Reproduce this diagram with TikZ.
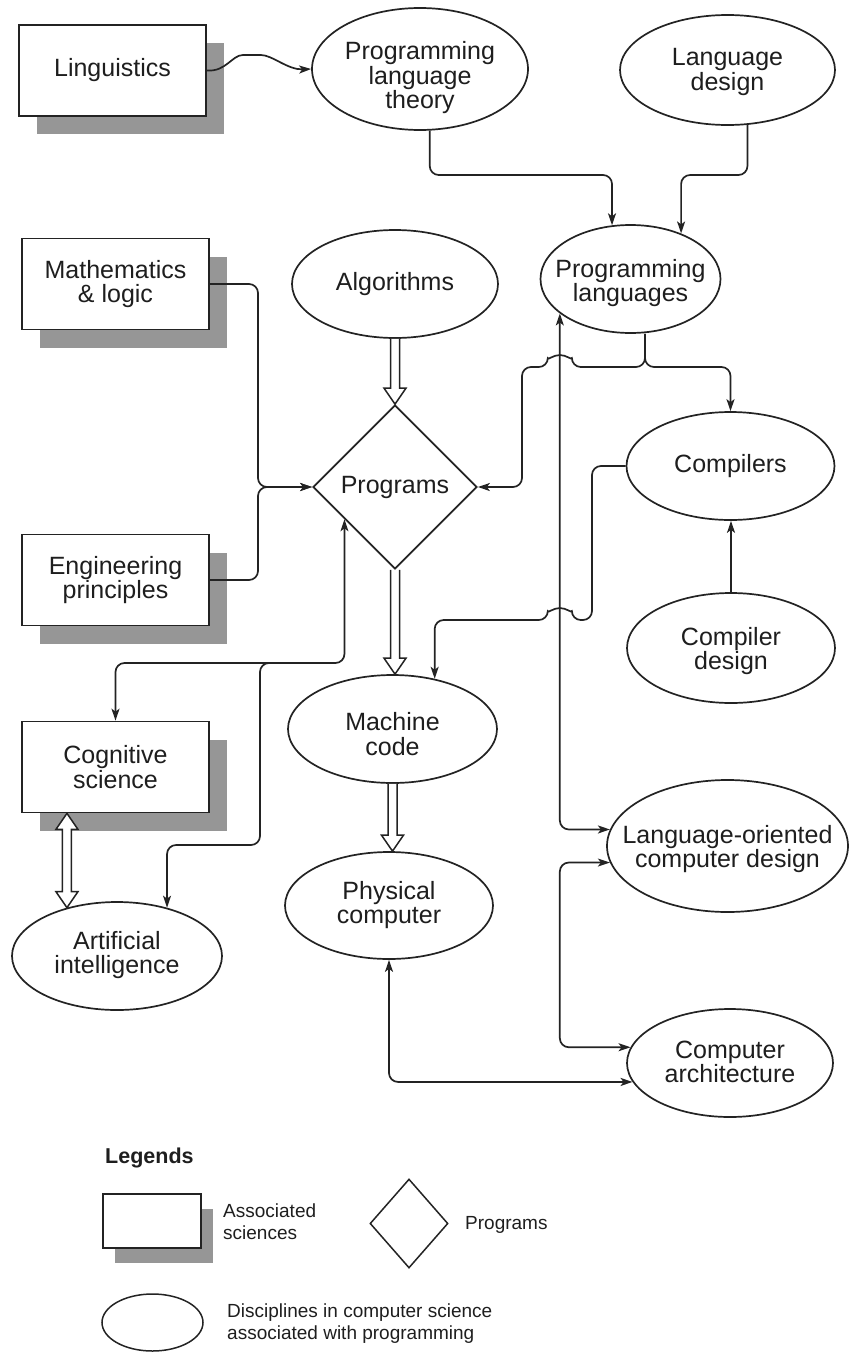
\documentclass[tikz,border=0pt]{standalone}
\usepackage{fontspec}
\setmainfont{Liberation Sans}
\usetikzlibrary{shapes.geometric,arrows.meta,calc,shadows}
\definecolor{linec}{RGB}{35,35,35}
\definecolor{textc}{RGB}{30,30,30}
\definecolor{shadowc}{RGB}{150,150,150}
\newcommand{\mainf}{\fontsize{25}{24.5}\selectfont}
\newcommand{\legf}{\fontsize{19}{22}\selectfont}
\newcommand{\hollowdown}[2]{%
  \draw[hollow] let \p1=(#1), \p2=(#2) in
    (\x1-4.5pt,\y1) -- (\x1-4.5pt,\y2+16pt) -- (\x1-11pt,\y2+16pt) -- (\x1,\y2)
    -- (\x1+11pt,\y2+16pt) -- (\x1+4.5pt,\y2+16pt) -- (\x1+4.5pt,\y1);}
\newcommand{\hollowboth}[2]{%
  \draw[hollow] let \p1=(#1), \p2=(#2) in
    (\x1-4.5pt,\y1-16pt) -- (\x1-11pt,\y1-16pt) -- (\x1,\y1) -- (\x1+11pt,\y1-16pt)
    -- (\x1+4.5pt,\y1-16pt) -- (\x1+4.5pt,\y2+16pt) -- (\x1+11pt,\y2+16pt) -- (\x1,\y2)
    -- (\x1-11pt,\y2+16pt) -- (\x1-4.5pt,\y2+16pt) -- cycle;}
\begin{document}
\begin{tikzpicture}[x=1pt,y=-1pt,
  >={Stealth[length=12pt,width=8pt,inset=3pt]},
  line/.style={draw=linec, line width=1.7pt, rounded corners=9pt},
  sci/.style={rectangle, draw=linec, line width=1.7pt, fill=white,
    minimum width=187pt, minimum height=91pt, inner sep=0pt, align=center,
    font=\mainf, text=textc,
    general shadow={fill=shadowc, draw=none, shadow xshift=18pt, shadow yshift=-18pt}},
  disc/.style={ellipse, draw=linec, line width=1.7pt, fill=white, inner sep=0pt},
  txt/.style={align=center, font=\mainf, text=textc, inner sep=0pt},
  legtxt/.style={align=left, font=\legf, text=textc, inner sep=0pt, anchor=west},
  hollow/.style={draw=linec, line width=1.5pt, fill=white, line join=miter},
]
\useasboundingbox (0,0) rectangle (852,1352);

% associated sciences
\node[sci] (ling) at (112.5,70.5) {Linguistics};
\node[sci] (math) at (115.5,284) {Mathematics\\\& logic};
\node[sci] (eng) at (115.5,580) {Engineering\\principles};
\node[sci] (cog) at (115.5,767) {Cognitive\\science};

% disciplines
\node[disc, minimum width=216pt, minimum height=122pt] (plt) at (420,69) {};
\node[txt] (plt-t) at (420,78) {Programming\\language\\theory};
\node[disc, minimum width=215pt, minimum height=110pt] (ld) at (727.5,70) {};
\node[txt] (ld-t) at (727.5,72) {Language\\design};
\node[disc, minimum width=180pt, minimum height=108pt] (pl) at (630.5,279) {};
\node[txt] (pl-t) at (630.5,283) {Programming\\languages};
\node[disc, minimum width=206pt, minimum height=108pt] (alg) at (395,284) {};
\node[txt] (alg-t) at (395,284) {Algorithms};
\node[diamond, aspect=1, draw=linec, line width=1.7pt, fill=white, inner sep=0pt,
  minimum width=164pt, minimum height=164pt, font=\mainf, text=textc] (prog) at (395,487) {Programs};
\node[disc, minimum width=208pt, minimum height=108pt] (comp) at (730.5,466) {};
\node[txt] (comp-t) at (730.5,466) {Compilers};
\node[disc, minimum width=208pt, minimum height=110pt] (cd) at (731,648) {};
\node[txt] (cd-t) at (731,651) {Compiler\\design};
\node[disc, minimum width=209pt, minimum height=108pt] (mc) at (392.5,729) {};
\node[txt] (mc-t) at (392.5,734) {Machine\\code};
\node[disc, minimum width=208pt, minimum height=107pt] (phys) at (389,905.5) {};
\node[txt] (phys-t) at (389,905) {Physical\\computer};
\node[disc, minimum width=241pt, minimum height=132pt] (locd) at (727.5,846) {};
\node[txt] (locd-t) at (727.5,849) {Language-oriented\\computer design};
\node[disc, minimum width=206pt, minimum height=108pt] (ca) at (730,1063) {};
\node[txt] (ca-t) at (730,1062) {Computer\\architecture};
\node[disc, minimum width=210pt, minimum height=108pt] (ai) at (117,956) {};
\node[txt] (ai-t) at (117,955) {Artificial\\intelligence};

% connectors
\draw[line,->] (ling.east) .. controls (226,72) and (232,55) .. (252,55)
  .. controls (272,55) and (288,70) .. (plt.west);

\coordinate (r1) at (0,175);
\draw[line,->] (plt.279) -- (plt.279 |- r1) -| (pl.109);
\draw[line,->] (ld.290) -- (ld.290 |- r1) -| (pl.42);

\coordinate (j) at (258,487);
\draw[line,->] (math.east) -| (j) -- (prog.west);
\draw[line,->] (eng.east) -| (j) -- (prog.west);

\coordinate (vx) at (pl.206);
\coordinate (plsplit) at (645,367);
\coordinate (lb) at (522,367);
\draw[line,->] (pl.south -| plsplit) -- (plsplit) -- ($(vx |- plsplit)+(12,0)$)
  arc[start angle=0,end angle=180,radius=12pt] -- (lb) |- (prog.east);
\draw[line,->] (pl.south -| plsplit) -- (plsplit) -| (comp.north);

\draw[line,<->] (pl.206) |- (locd.172);
\draw[line,<->] (locd.188) -- (locd.188 -| vx) |- (ca.171);
\draw[line,<->] (phys.south) |- (ca.191);
\draw[line,->] (cd.north) -- (cd.north |- comp.south);

\coordinate (c1) at (592,620);
\draw[line,->] (comp.west) -| (c1) -- ($(vx |- c1)+(12,0)$)
  arc[start angle=0,end angle=180,radius=12pt] -| (mc.50);

\coordinate (pe) at ($(prog.west)!0.39!(prog.south)$);
\coordinate (r2) at (0,663);
\draw[line,<->] (pe) -- (pe |- r2) -| (cog.north);
\coordinate (b0) at (285,663);
\coordinate (b1) at (260,845);
\draw[line,->] (b0) -| (b1) -| (ai.44);

% hollow arrows
\hollowdown{alg.south}{prog.north}
\hollowdown{prog.south}{prog.south |- mc.north}
\hollowdown{mc.south}{mc.south |- phys.north}
\hollowboth{ai.136 |- cog.south}{ai.136}

% legend
\node[anchor=base west, font=\bfseries\fontsize{21.5}{24}\selectfont, text=textc, inner sep=0pt] (leg) at (105,1163) {Legends};
\node[rectangle, draw=linec, line width=1.5pt, fill=white, minimum width=98pt, minimum height=54pt,
  general shadow={fill=shadowc, draw=none, shadow xshift=12pt, shadow yshift=-15pt}] (legbox) at (152,1221) {};
\node[legtxt] (legbox-t) at (223,1222) {Associated\\sciences};
\node[diamond, draw=linec, line width=1.5pt, fill=white, inner sep=0pt,
  minimum width=78pt, minimum height=89pt] (legdia) at (409,1223.5) {};
\node[legtxt] (legdia-t) at (465,1225) {Programs};
\node[ellipse, draw=linec, line width=1.5pt, fill=white, inner sep=0pt,
  minimum width=101pt, minimum height=57pt] (legell) at (152.5,1322.5) {};
\node[legtxt] (legell-t) at (227,1324) {Disciplines in computer science\\associated with programming};
\end{tikzpicture}
\end{document}
